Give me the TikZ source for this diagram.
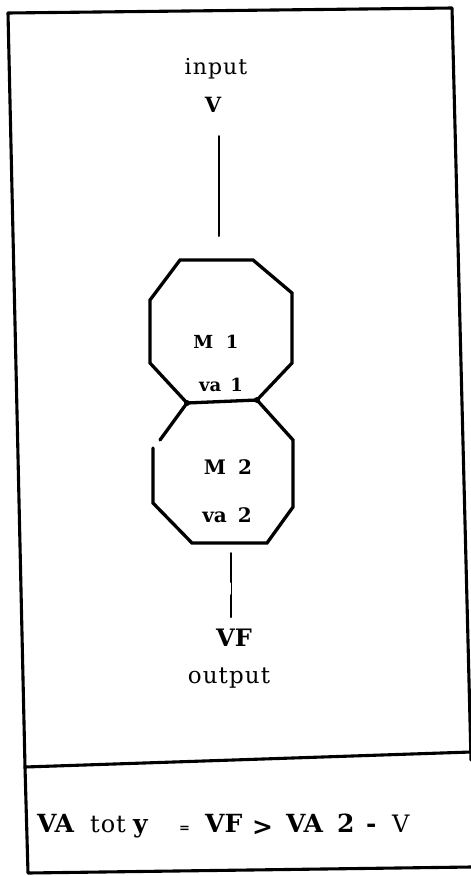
\documentclass[tikz,border=0pt]{standalone}
\usepackage{fontspec}
\setmainfont{DejaVu Serif}
\begin{document}
\begin{tikzpicture}[x=1pt,y=-1pt,
  frame/.style={line width=3.1pt,line join=round,line cap=round},
  cell/.style={line width=3.3pt,line join=miter,line cap=round},
  wire/.style={line width=2pt,line cap=round},
  lbl/.style={inner sep=0pt,font=\fontsize{22}{24}\selectfont},
  tag/.style={inner sep=0pt,font=\fontsize{20}{22}\selectfont\bfseries},
  term/.style={inner sep=0pt,anchor=base west,font=\fontsize{25}{27}\selectfont\bfseries}]
\useasboundingbox (0,0) rectangle (471,876);
\fill[white] (0,0) rectangle (471,876);

% outer frame and the lower formula panel
\draw[frame] (471,867) -- (28,873) -- (25,767) -- (8,13) -- (452,8) -- (471,760);
\draw[frame] (25,767) -- (471,752);

% top module M1
\draw[cell] (180,260) -- (253,260) -- (292,293) -- (292,363) -- (257,400)
  -- (187,403) -- (150,363) -- (150,300) -- cycle;
% bottom module M2, sharing the edge with M1
\draw[cell] (187,403) -- (160,440);
\draw[cell] (153,448) -- (153,503) -- (192,543) -- (267,543) -- (293,507)
  -- (293,440) -- (257,400);
\fill (187,403) circle (3pt);
\fill (257,400) circle (3pt);

\coordinate (m1top) at (219,236);
\coordinate (m2bot) at (231,553);

% labels
\node[lbl] (in) at (216,69) {\addfontfeatures{LetterSpace=5}input};
\node[lbl,font=\fontsize{21}{23}\selectfont\bfseries] (v) at (213,105) {V};
\node[tag,font=\fontsize{18}{20}\selectfont\bfseries] (m1) at (216,342) {M\hspace{0.7em}1};
\node[tag,font=\fontsize{18}{20}\selectfont\bfseries] (va1) at (221,385) {va\hspace{0.5em}1};
\node[tag] (m2) at (228,467) {M\hspace{0.6em}2};
\node[tag] (va2) at (227,515) {va\hspace{0.55em}2};
\node[lbl,font=\fontsize{24}{26}\selectfont\bfseries] (vf) at (234,638) {VF};
\node[lbl,font=\fontsize{23}{25}\selectfont] (out) at (229,678) {\addfontfeatures{LetterSpace=5}output};

% formula, set term by term
\node[term] (t1) at (37,832) {VA};
\node[term,font=\fontsize{24}{26}\selectfont] (t2) at (90,832) {\addfontfeatures{LetterSpace=4}tot};
\node[term] (t3) at (133,832) {y};
\node[term,font=\fontsize{13}{15}\selectfont\bfseries] (t4) at (179,832) {=};
\node[term] (t5) at (205,832) {VF};
\node[term] (t6) at (252,835) {>};
\node[term] (t7) at (286,832) {VA};
\node[term] (t8) at (337,832) {2};
\node[term] (t9) at (366,832) {-};
\node[term,font=\fontsize{24}{26}\selectfont] (t10) at (392,832) {V};

% input and output wires
\draw[wire] ([yshift=100pt]m1top) -- (m1top);
\draw[wire] (m2bot) -- ([yshift=-29pt]m2bot);
\draw[line width=0.6pt] ([yshift=-29pt]m2bot) -- ([yshift=-42pt]m2bot);
\draw[wire] ([yshift=-42pt]m2bot) -- ([yshift=-64pt]m2bot);
\end{tikzpicture}
\end{document}
